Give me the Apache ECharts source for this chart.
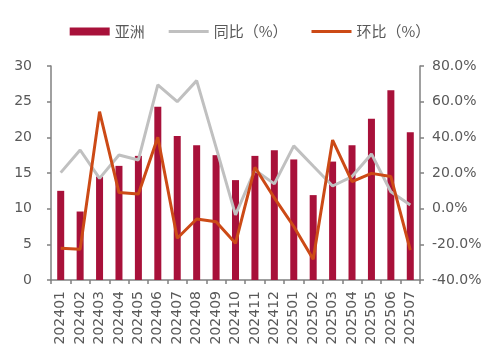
<!DOCTYPE html>
<html>
<head>
<meta charset="utf-8">
<script src="https://cdn.jsdelivr.net/npm/echarts@6/dist/echarts.min.js"></script>
<style>
html,body{margin:0;padding:0;background:#fff;}
#c{width:500px;height:359px;}
</style>
</head>
<body>
<div id="c"></div>
<script>
const categories = ['202401','202402','202403','202404','202405','202406','202407','202408','202409','202410','202411','202412','202501','202502','202503','202504','202505','202506','202507'];
const asia = [12.5, 9.6, 14.5, 16.0, 17.4, 24.3, 20.2, 18.9, 17.5, 14.0, 17.4, 18.2, 16.9, 11.9, 16.6, 18.9, 22.6, 26.6, 20.7];
const yoy = [20.2, 32.9, 17.0, 30.1, 27.3, 69.4, 60.0, 71.8, 34.4, -3.5, 21.7, 13.9, 35.2, 23.9, 12.7, 18.0, 30.7, 9.5, 2.1];
const mom = [-22.2, -22.8, 54.4, 9.0, 8.2, 40.0, -16.6, -5.8, -7.3, -19.4, 23.2, 6.0, -10.0, -28.4, 38.5, 15.1, 19.8, 18.0, -23.2];
const leftTicks = {min: 0, max: 30, interval: 5};
const rightTicks = {min: -40, max: 80, interval: 20};

const txt = '#595959';
const font = 'DejaVu Sans';
const lineIcon = 'path://M0,0L40,0L40,3L0,3Z';
const chart = echarts.init(document.getElementById('c'), null, {renderer: 'canvas'});
chart.setOption({
  animation: false,
  legend: {
    top: 19,
    left: 'center',
    itemGap: 24,
    itemWidth: 40,
    itemHeight: 8,
    textStyle: {color: txt, fontSize: 15, fontFamily: 'Noto Sans CJK SC'},
    data: [
      {name: '亚洲', icon: 'rect'},
      {name: '同比（%）', icon: lineIcon},
      {name: '环比（%）', icon: lineIcon}
    ]
  },
  grid: {left: 51, right: 80, top: 66, bottom: 79},
  xAxis: {
    type: 'category',
    data: categories,
    axisLine: {lineStyle: {color: '#808080', width: 1.5}},
    axisTick: {show: true, length: 4, lineStyle: {color: '#808080', width: 1.5}},
    axisLabel: {rotate: 90, interval: 0, color: txt, fontSize: 14, fontFamily: font, margin: 11}
  },
  yAxis: [
    {
      type: 'value', min: leftTicks.min, max: leftTicks.max, interval: leftTicks.interval,
      axisLine: {show: true, lineStyle: {color: '#808080', width: 1.5}},
      axisTick: {show: true, length: 4, lineStyle: {color: '#808080', width: 1.5}},
      splitLine: {show: false},
      axisLabel: {color: txt, fontSize: 14, fontFamily: font, margin: 19}
    },
    {
      type: 'value', min: rightTicks.min, max: rightTicks.max, interval: rightTicks.interval,
      position: 'right',
      axisLine: {show: true, lineStyle: {color: '#808080', width: 1.5}},
      axisTick: {show: true, length: 4, lineStyle: {color: '#808080', width: 1.5}},
      splitLine: {show: false},
      axisLabel: {color: txt, fontSize: 14, fontFamily: font, margin: 12,
        formatter: v => v.toFixed(1) + '%'}
    }
  ],
  series: [
    {
      name: '亚洲', type: 'bar', data: asia, barWidth: 7,
      itemStyle: {color: '#A8113A'}
    },
    {
      name: '同比（%）', type: 'line', yAxisIndex: 1, data: yoy,
      symbol: 'none', lineStyle: {color: '#C0C0C0', width: 3}, itemStyle: {color: '#C0C0C0'}
    },
    {
      name: '环比（%）', type: 'line', yAxisIndex: 1, data: mom,
      symbol: 'none', lineStyle: {color: '#CC4A16', width: 3}, itemStyle: {color: '#CC4A16'}
    }
  ]
});
</script>
</body>
</html>
